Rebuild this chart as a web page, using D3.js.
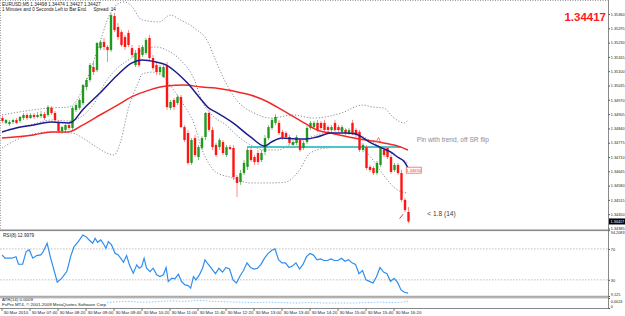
<!DOCTYPE html>
<html>
<head>
<meta charset="utf-8">
<script src="https://cdn.jsdelivr.net/npm/d3@7"></script>
<style>
body{margin:0;background:#fff}
svg{display:block}
text{font-family:"Liberation Sans",Arial,sans-serif}
</style>
</head>
<body>
<div id="chart"></div>
<script>
// ---- data (EURUSD M5, 30 Mar 2010) ----
const headerLine1 = "EURUSD,M5  1.34498 1.34474 1.34427 1.34427";
const headerLine2 = "1 Minutes and 0 Seconds Left to Bar End.     Spread: 14";
const lastPrice = 1.34417;

// [open, high, low, close], one per 5 minute bar starting 07:00
const candles = [
 [1.34887,1.34896,1.34865,1.34874],[1.34865,1.34883,1.34860,1.34878],[1.34860,1.34878,1.34851,1.34869],
 [1.34869,1.34883,1.34860,1.34878],[1.34878,1.34887,1.34860,1.34865],[1.34874,1.34896,1.34865,1.34892],
 [1.34887,1.34910,1.34878,1.34901],[1.34901,1.34910,1.34878,1.34887],[1.34887,1.34910,1.34883,1.34901],
 [1.34901,1.34910,1.34883,1.34892],[1.34892,1.34915,1.34887,1.34901],[1.34896,1.34919,1.34887,1.34905],
 [1.34905,1.34915,1.34878,1.34887],[1.34901,1.34946,1.34892,1.34937],[1.34933,1.34942,1.34901,1.34910],
 [1.34910,1.34919,1.34869,1.34878],[1.34869,1.34878,1.34819,1.34828],[1.34828,1.34851,1.34815,1.34846],
 [1.34833,1.34860,1.34824,1.34855],[1.34855,1.34869,1.34833,1.34842],[1.34842,1.34942,1.34833,1.34933],
 [1.34924,1.34955,1.34915,1.34946],[1.34933,1.34978,1.34924,1.34969],[1.34955,1.35042,1.34946,1.35037],
 [1.35028,1.35069,1.35014,1.35060],[1.35060,1.35137,1.35051,1.35128],[1.35119,1.35142,1.35083,1.35096],
 [1.35105,1.35233,1.35096,1.35228],[1.35205,1.35242,1.35196,1.35233],[1.35233,1.35251,1.35196,1.35210],
 [1.35210,1.35219,1.35142,1.35196],[1.35196,1.35365,1.35187,1.35355],[1.35351,1.35365,1.35278,1.35287],
 [1.35301,1.35319,1.35242,1.35255],[1.35278,1.35287,1.35210,1.35219],[1.35255,1.35265,1.35196,1.35210],
 [1.35274,1.35287,1.35210,1.35219],[1.35205,1.35219,1.35160,1.35174],[1.35128,1.35196,1.35119,1.35183],
 [1.35205,1.35219,1.35119,1.35128],[1.35174,1.35219,1.35165,1.35210],[1.35183,1.35251,1.35174,1.35242],
 [1.35251,1.35265,1.35151,1.35160],[1.35160,1.35174,1.35105,1.35114],[1.35128,1.35142,1.35083,1.35096],
 [1.35096,1.35128,1.35083,1.35119],[1.35074,1.35128,1.35069,1.35119],[1.35128,1.35142,1.34924,1.34937],
 [1.34933,1.34969,1.34924,1.34960],[1.34969,1.34978,1.34924,1.34937],[1.34955,1.34992,1.34946,1.34983],
 [1.34983,1.34992,1.34842,1.34846],[1.34846,1.34855,1.34778,1.34787],[1.34819,1.34833,1.34674,1.34683],
 [1.34683,1.34796,1.34674,1.34787],[1.34796,1.34810,1.34710,1.34719],[1.34710,1.34765,1.34696,1.34755],
 [1.34751,1.34805,1.34742,1.34796],[1.34801,1.34915,1.34787,1.34910],[1.34910,1.34924,1.34824,1.34833],
 [1.34833,1.34846,1.34742,1.34755],[1.34765,1.34774,1.34710,1.34719],[1.34755,1.34796,1.34742,1.34787],
 [1.34778,1.34787,1.34719,1.34728],[1.34719,1.34765,1.34710,1.34755],[1.34755,1.34765,1.34742,1.34746],
 [1.34751,1.34765,1.34605,1.34619],[1.34619,1.34628,1.34528,1.34592],[1.34596,1.34651,1.34583,1.34637],
 [1.34637,1.34696,1.34628,1.34683],[1.34665,1.34751,1.34651,1.34742],[1.34742,1.34751,1.34687,1.34696],
 [1.34710,1.34719,1.34674,1.34687],[1.34728,1.34742,1.34674,1.34687],[1.34696,1.34742,1.34687,1.34728],
 [1.34733,1.34810,1.34719,1.34796],[1.34796,1.34855,1.34787,1.34846],[1.34842,1.34887,1.34833,1.34878],
 [1.34865,1.34905,1.34855,1.34892],[1.34865,1.34878,1.34810,1.34819],[1.34824,1.34833,1.34787,1.34801],
 [1.34819,1.34828,1.34792,1.34801],[1.34801,1.34810,1.34765,1.34774],[1.34765,1.34787,1.34755,1.34778],
 [1.34774,1.34810,1.34765,1.34801],[1.34787,1.34796,1.34733,1.34742],[1.34751,1.34783,1.34742,1.34774],
 [1.34778,1.34851,1.34769,1.34842],[1.34842,1.34874,1.34833,1.34865],[1.34846,1.34874,1.34842,1.34865],
 [1.34865,1.34878,1.34824,1.34833],[1.34865,1.34874,1.34833,1.34842],[1.34865,1.34878,1.34824,1.34833],
 [1.34846,1.34855,1.34824,1.34833],[1.34833,1.34855,1.34824,1.34846],[1.34865,1.34878,1.34824,1.34833],
 [1.34846,1.34855,1.34824,1.34833],[1.34824,1.34855,1.34819,1.34846],[1.34833,1.34842,1.34810,1.34819],
 [1.34819,1.34842,1.34810,1.34833],[1.34865,1.34878,1.34810,1.34819],[1.34833,1.34842,1.34801,1.34810],
 [1.34824,1.34833,1.34733,1.34742],[1.34742,1.34774,1.34733,1.34765],[1.34755,1.34765,1.34651,1.34660],
 [1.34665,1.34674,1.34642,1.34651],[1.34660,1.34669,1.34628,1.34637],[1.34637,1.34692,1.34628,1.34683],
 [1.34674,1.34760,1.34665,1.34751],[1.34742,1.34751,1.34710,1.34719],[1.34751,1.34760,1.34701,1.34710],
 [1.34710,1.34719,1.34633,1.34642],[1.34651,1.34683,1.34642,1.34674],[1.34674,1.34683,1.34628,1.34637],
 [1.34637,1.34651,1.34505,1.34515],[1.34515,1.34524,1.34460,1.34469],[1.34460,1.34483,1.34410,1.34417]
];

// indicator lines, [bar, value]
const maSlow = [[0,1.34796],[9,1.34810],[14,1.34824],[19,1.34824],[23,1.34855],[28,1.34901],[33,1.34946],
 [37,1.34983],[42,1.35014],[47,1.35033],[52,1.35037],[57,1.35028],[61,1.35024],[66,1.35010],[71,1.34992],
 [76,1.34960],[80,1.34924],[85,1.34878],[90,1.34833],[95,1.34815],[99,1.34801],[104,1.34787],[109,1.34774],
 [114,1.34755],[116,1.34742]];
const maFast = [[0,1.34824],[4,1.34842],[9,1.34855],[14,1.34869],[19,1.34865],[20,1.34869],[23,1.34924],
 [28,1.35001],[33,1.35083],[37,1.35137],[40,1.35151],[44,1.35142],[47,1.35128],[50,1.35092],[53,1.35046],
 [57,1.34969],[59,1.34933],[61,1.34915],[66,1.34865],[71,1.34801],[75,1.34760],[77,1.34778],[80,1.34796],
 [84,1.34792],[87,1.34792],[90,1.34801],[94,1.34819],[98,1.34819],[101,1.34815],[105,1.34778],[108,1.34755],
 [111,1.34733],[113,1.34710],[115,1.34687],[116,1.34660]];
const bandUpper = [[0,1.34901],[14,1.34933],[19,1.34937],[23,1.35014],[27,1.35183],[31,1.35365],[33,1.35405],
 [35,1.35415],[37,1.35396],[40,1.35333],[45,1.35324],[48,1.35355],[51,1.35333],[55,1.35296],[59,1.35228],
 [61,1.35151],[64,1.35046],[67,1.34969],[72,1.34910],[77,1.34887],[83,1.34901],[89,1.34887],[97,1.34910],
 [103,1.34946],[106,1.34937],[109,1.34933],[112,1.34887],[115,1.34865],[116,1.34878]];
const bandMiddle = [[0,1.34824],[9,1.34860],[14,1.34878],[19,1.34874],[22,1.34887],[26,1.34946],[30,1.35060],
 [33,1.35115],[37,1.35160],[40,1.35196],[44,1.35210],[47,1.35196],[51,1.35151],[55,1.35060],[57,1.34969],
 [60,1.34901],[64,1.34855],[67,1.34810],[71,1.34765],[75,1.34742],[79,1.34742],[82,1.34765],[86,1.34787],
 [90,1.34810],[94,1.34828],[97,1.34837],[101,1.34819],[105,1.34787],[108,1.34755],[112,1.34719],[116,1.34683]];
const bandLower = [[0,1.34751],[4,1.34787],[14,1.34824],[20,1.34819],[24,1.34787],[27,1.34755],[30,1.34728],
 [32,1.34719],[34,1.34787],[36,1.34924],[39,1.35051],[40,1.35087],[43,1.35096],[46,1.35078],[48,1.35037],
 [51,1.34969],[55,1.34855],[57,1.34751],[59,1.34683],[61,1.34642],[66,1.34615],[71,1.34592],[76,1.34592],
 [81,1.34596],[85,1.34651],[88,1.34728],[93,1.34751],[102,1.34755],[106,1.34696],[109,1.34628],[113,1.34560],
 [116,1.34546]];

const rsi = [[0,62.3],[0.9,58],[2.8,58],[4,60],[4.7,50.2],[5.9,50.2],[6.9,66.6],[7.8,68.7],[8.8,58],[9.9,61.4],
 [11.1,62.3],[11.8,66.6],[12.9,77.3],[13.9,58],[14.7,45.1],[15.8,27],[17.1,32.2],[18.5,40.7],[18.9,47.2],
 [19.6,60.1],[20.6,73],[21.8,79.4],[23.1,88],[24,85.9],[24.9,81.6],[25.9,77.3],[26.6,83.8],[27.3,78.6],
 [28.2,81.6],[28.9,77.3],[29.7,70.9],[30.4,79.4],[31.3,75.2],[32.3,64.4],[33.2,62.3],[33.9,58],[34.7,52.8],
 [35.6,61.4],[36.4,49.4],[37.5,38.6],[38.5,49.4],[39.2,45.1],[39.9,47.2],[40.6,58],[41.3,45.1],[42.3,40.7],
 [43.2,45.1],[44.2,36.5],[45.1,34.3],[46.1,36.5],[46.9,45.9],[47.5,27.8],[48.5,32.2],[49.4,31.3],[50.4,37.3],
 [51.3,27.8],[52.3,23.5],[53.2,22.6],[53.9,19.3],[54.7,34.3],[55.4,30],[56.4,36.5],[57.3,45.1],[58,55.8],
 [58.9,50.2],[60,44],[61,38],[62,45],[63,40],[64,46],[65,44],[66,30],[67,26],[68,35],[69,42],[70,52],[71,46],
 [72,44],[73,45],[74,50],[75,58],[76,64],[77,68],[78,70],[79,56],[80,52],[81,52],[82,46],[83,48],[84,52],
 [85,44],[86,50],[87,60],[88,64],[89,62],[90,56],[91,57],[92,55],[93,55],[94,57],[95,55],[96,55],[97,58],
 [98,54],[99,56],[100,52],[101,50],[102,38],[103,42],[104,30],[105,28],[106,26],[107,34],[108,46],[109,40],
 [110,38],[111,28],[112,32],[113,27],[114,17],[115,14],[116,12.9]];
const rsiLabel = "RSI(8) 12.9979";

const atr = [[30,0.0013],[33,0.0015],[36,0.0016],[40,0.0014],[44,0.0015],[48,0.0017],[52,0.0016],
 [56,0.0018],[60,0.0016],[64,0.0015],[68,0.0014],[72,0.0013],[76,0.0014],[80,0.0013],[84,0.0012],
 [88,0.0013],[92,0.0012],[96,0.0012],[100,0.0012],[104,0.0013],[108,0.0014],[112,0.0013],[116,0.0016]];
const atrLabel = "ATR(14) 0.0009";
const copyright = "FxPro MT4, \u00a9 2001-2009 MetaQuotes Software Corp.";

const priceTicks = [1.35360,1.35295,1.35230,1.35165,1.35100,1.35035,1.34970,1.34905,1.34840,1.34775,
 1.34710,1.34645,1.34580,1.34515,1.34450,1.34385];
const rsiTicks = [94.2083,70,30,9.125];
const atrTicks = [0.0024,0];
const timeLabels = ["30 Mar 2010","30 Mar 07:40","30 Mar 08:20","30 Mar 09:00","30 Mar 09:40","30 Mar 10:20",
 "30 Mar 11:00","30 Mar 11:40","30 Mar 12:20","30 Mar 13:00","30 Mar 13:40","30 Mar 14:20","30 Mar 15:00",
 "30 Mar 15:40","30 Mar 16:20"];
const firstBarTime = "07:00";

// chart objects
const srLevel = {price: 1.34756, from: 70, to: 114};
const priceLabel = {bar: 115.5, price: 1.34650, text: "1.34650"};
const noteText = {bar: 118.5, price: 1.34778, text: "Pin with trend, off SR flip"};
const noteText2 = {bar: 121.5, price: 1.34441, text: "< 1.8 (14)"};

// ---- layout ----
const W = 625, H = 316, plotR = 608;
const svg = d3.select("#chart").append("svg").attr("width", W).attr("height", H);

const x = d3.scaleLinear().domain([0, candles.length - 1]).range([2, 408]);
const yP = d3.scaleLinear().domain([1.34385, 1.35360]).range([228.5, 14]);
const yR = d3.scaleLinear().domain([9.125, 94.2083]).range([296, 230.2]);
const yA = d3.scaleLinear().domain([0, 0.0024]).range([308, 298]);

const defs = svg.append("defs");
defs.append("clipPath").attr("id", "cMain").append("rect").attr("x", 0).attr("y", 1).attr("width", plotR).attr("height", 228.5);
defs.append("clipPath").attr("id", "cRsi").append("rect").attr("x", 0).attr("y", 231).attr("width", plotR).attr("height", 65);
defs.append("clipPath").attr("id", "cAtr").append("rect").attr("x", 0).attr("y", 298).attr("width", plotR).attr("height", 10);

const main = svg.append("g").attr("clip-path", "url(#cMain)");

// bollinger bands, dotted
const lineP = d3.line().x(d => x(d[0])).y(d => yP(d[1])).curve(d3.curveMonotoneX);
[bandUpper, bandMiddle, bandLower].forEach(b => {
  main.append("path").attr("d", lineP(b)).attr("fill", "none")
    .attr("stroke", "#8a8a9a").attr("stroke-width", 1).attr("stroke-dasharray", "1.2,1.8");
});

// SR line
main.append("line").attr("x1", x(srLevel.from)).attr("x2", x(srLevel.to))
  .attr("y1", yP(srLevel.price)).attr("y2", yP(srLevel.price))
  .attr("stroke", "#4cc4c8").attr("stroke-width", 2);

// candles
const cg = main.append("g");
candles.forEach((c, i) => {
  const up = c[3] >= c[0];
  cg.append("line").attr("x1", x(i) + 0.5).attr("x2", x(i) + 0.5)
    .attr("y1", yP(c[1])).attr("y2", yP(c[2]))
    .attr("stroke", up ? "#7cc47c" : "#ff8a8a").attr("stroke-width", 1);
  const top = yP(Math.max(c[0], c[3])), bot = yP(Math.min(c[0], c[3]));
  cg.append("rect").attr("x", x(i) - 0.7).attr("width", 2.4)
    .attr("y", top).attr("height", Math.max(1, bot - top))
    .attr("fill", up ? "#1f9a1f" : "#ff1414");
});

// moving averages
main.append("path").attr("d", lineP(maSlow)).attr("fill", "none").attr("stroke", "#f22828").attr("stroke-width", 1.5);
main.append("path").attr("d", lineP(maFast)).attr("fill", "none").attr("stroke", "#1c1c8c").attr("stroke-width", 1.5);

// small markers
main.append("path").attr("d", `M${x(107)},${yP(1.34780)} l2,-4 l2,4 z`).attr("fill", "none").attr("stroke", "#ff5050").attr("stroke-width", 0.8);
main.append("line").attr("x1", x(113.6)).attr("y1", yP(1.34430)).attr("x2", x(114.6)).attr("y2", yP(1.34450))
  .attr("stroke", "#ff3030").attr("stroke-width", 1);

// price label box
const pl = main.append("g").attr("transform", `translate(${x(priceLabel.bar)},${yP(priceLabel.price)})`);
pl.append("rect").attr("x", 0).attr("y", -3).attr("width", 15).attr("height", 6)
  .attr("fill", "#fff").attr("stroke", "#ff6060").attr("stroke-width", 0.8);
pl.append("text").attr("x", 7.5).attr("y", 1.6).attr("text-anchor", "middle")
  .attr("font-size", 4.2).attr("fill", "#ff3030").text(priceLabel.text);

// notes
main.append("text").attr("x", x(noteText.bar)).attr("y", yP(noteText.price))
  .attr("font-size", 6.6).attr("fill", "#8c8c9c").text(noteText.text);
main.append("text").attr("x", x(noteText2.bar)).attr("y", yP(noteText2.price))
  .attr("font-size", 6.6).attr("fill", "#3c3c3c").text(noteText2.text);

// header text
svg.append("text").attr("x", 2).attr("y", 6).attr("font-size", 4.6).attr("fill", "#222").text(headerLine1);
svg.append("text").attr("x", 2).attr("y", 11).attr("font-size", 4.6).attr("fill", "#222").attr("xml:space", "preserve").text(headerLine2);
svg.append("text").attr("x", 606).attr("y", 21).attr("text-anchor", "end")
  .attr("font-size", 11.5).attr("font-weight", "bold").attr("fill", "#ff1a1a").text(lastPrice.toFixed(5));

// ---- RSI panel ----
const rsiG = svg.append("g").attr("clip-path", "url(#cRsi)");
[70, 30].forEach(v => rsiG.append("line").attr("x1", 0).attr("x2", plotR).attr("y1", yR(v)).attr("y2", yR(v))
  .attr("stroke", "#b0b0b0").attr("stroke-width", 0.8).attr("stroke-dasharray", "1.5,1.5"));
const lineR = d3.line().x(d => x(d[0])).y(d => yR(d[1]));
rsiG.append("path").attr("d", lineR(rsi)).attr("fill", "none").attr("stroke", "#2e8ef0").attr("stroke-width", 1.2);
svg.append("text").attr("x", 3).attr("y", 237).attr("font-size", 4.6).attr("fill", "#222").text(rsiLabel);

// ---- ATR panel ----
const atrG = svg.append("g").attr("clip-path", "url(#cAtr)");
const lineA = d3.line().x(d => x(d[0])).y(d => yA(d[1])).curve(d3.curveMonotoneX);
atrG.append("path").attr("d", lineA(atr)).attr("fill", "none").attr("stroke", "#7ab8f0")
  .attr("stroke-width", 0.8).attr("stroke-dasharray", "1.5,1.5");
svg.append("text").attr("x", 2).attr("y", 301).attr("font-size", 4.4).attr("fill", "#222").text(atrLabel);
svg.append("text").attr("x", 2).attr("y", 305.5).attr("font-size", 4.4).attr("fill", "#222").text(copyright);

// ---- frames ----
svg.append("line").attr("x1", 0).attr("x2", plotR).attr("y1", 0.5).attr("y2", 0.5)
  .attr("stroke", "#999").attr("stroke-dasharray", "1,1.5");
svg.append("line").attr("x1", 0.5).attr("x2", 0.5).attr("y1", 0).attr("y2", 229)
  .attr("stroke", "#999").attr("stroke-dasharray", "1,1.5");
svg.append("rect").attr("x", 0).attr("y", 229.5).attr("width", plotR).attr("height", 1.6).attr("fill", "#8a8a8a");
svg.append("line").attr("x1", 0).attr("x2", plotR).attr("y1", 296.3).attr("y2", 296.3).attr("stroke", "#8a8a8a").attr("stroke-width", 0.9);
svg.append("line").attr("x1", 0).attr("x2", plotR).attr("y1", 297.8).attr("y2", 297.8).attr("stroke", "#8a8a8a").attr("stroke-width", 0.9);
svg.append("line").attr("x1", 0).attr("x2", plotR).attr("y1", 308.5).attr("y2", 308.5).attr("stroke", "#8a8a8a");
svg.append("line").attr("x1", plotR + 0.5).attr("x2", plotR + 0.5).attr("y1", 0).attr("y2", 309).attr("stroke", "#8a8a8a");

// ---- right axes ----
const axP = svg.append("g").attr("transform", `translate(${plotR + 0.5},0)`)
  .call(d3.axisRight(yP).tickValues(priceTicks).tickSize(1.5).tickFormat(d3.format(".5f")));
const axR = svg.append("g").attr("transform", `translate(${plotR + 0.5},0)`)
  .call(d3.axisRight(yR).tickValues(rsiTicks).tickSize(1.5).tickFormat(d => d === 94.2083 ? "94.2083" : d === 9.125 ? "9.125" : d));
const axA = svg.append("g").attr("transform", `translate(${plotR + 0.5},0)`)
  .call(d3.axisRight(yA).tickValues(atrTicks).tickSize(1.5).tickFormat(d => d ? "0.0024" : "0"));
[axP, axR, axA].forEach(a => {
  a.select(".domain").remove();
  a.selectAll("line").attr("stroke", "#555");
  a.selectAll("text").attr("font-size", 3.8).attr("fill", "#222").attr("x", 2.3)
    .attr("font-family", "Liberation Sans, Arial, sans-serif");
});
axR.selectAll(".tick").filter(d => d === 94.2083).select("text").attr("dy", "0.9em");
axR.selectAll(".tick").filter(d => d === 9.125).select("text").attr("dy", "-0.2em");
axA.selectAll(".tick").filter(d => d === 0.0024).select("text").attr("dy", "1.2em");
axA.selectAll(".tick").filter(d => d === 0).select("text").attr("dy", "-0.1em");

// current price marker on axis
const cp = svg.append("g").attr("transform", `translate(${plotR + 1},${yP(lastPrice)})`);
cp.append("rect").attr("x", 0).attr("y", -3).attr("width", 16).attr("height", 6).attr("fill", "#000");
cp.append("text").attr("x", 1.5).attr("y", 1.5).attr("font-size", 3.8).attr("fill", "#fff").text(lastPrice.toFixed(5));

// ---- time axis ----
const parseHM = s => { const p = s.split(":"); return +p[0] * 60 + +p[1]; };
const t0 = parseHM(firstBarTime);
const barOfLabel = s => { const m = s.match(/(\d\d):(\d\d)$/); return m ? (parseHM(m[0]) - t0) / 5 : 0; };
const tx = svg.append("g");
timeLabels.forEach(s => {
  const xi = x(barOfLabel(s));
  tx.append("line").attr("x1", xi).attr("x2", xi).attr("y1", 308.5).attr("y2", 311).attr("stroke", "#555").attr("stroke-width", 0.8);
  tx.append("text").attr("x", xi + 1.5).attr("y", 314).attr("font-size", 4.4).attr("fill", "#222").text(s);
});
</script>
</body>
</html>
